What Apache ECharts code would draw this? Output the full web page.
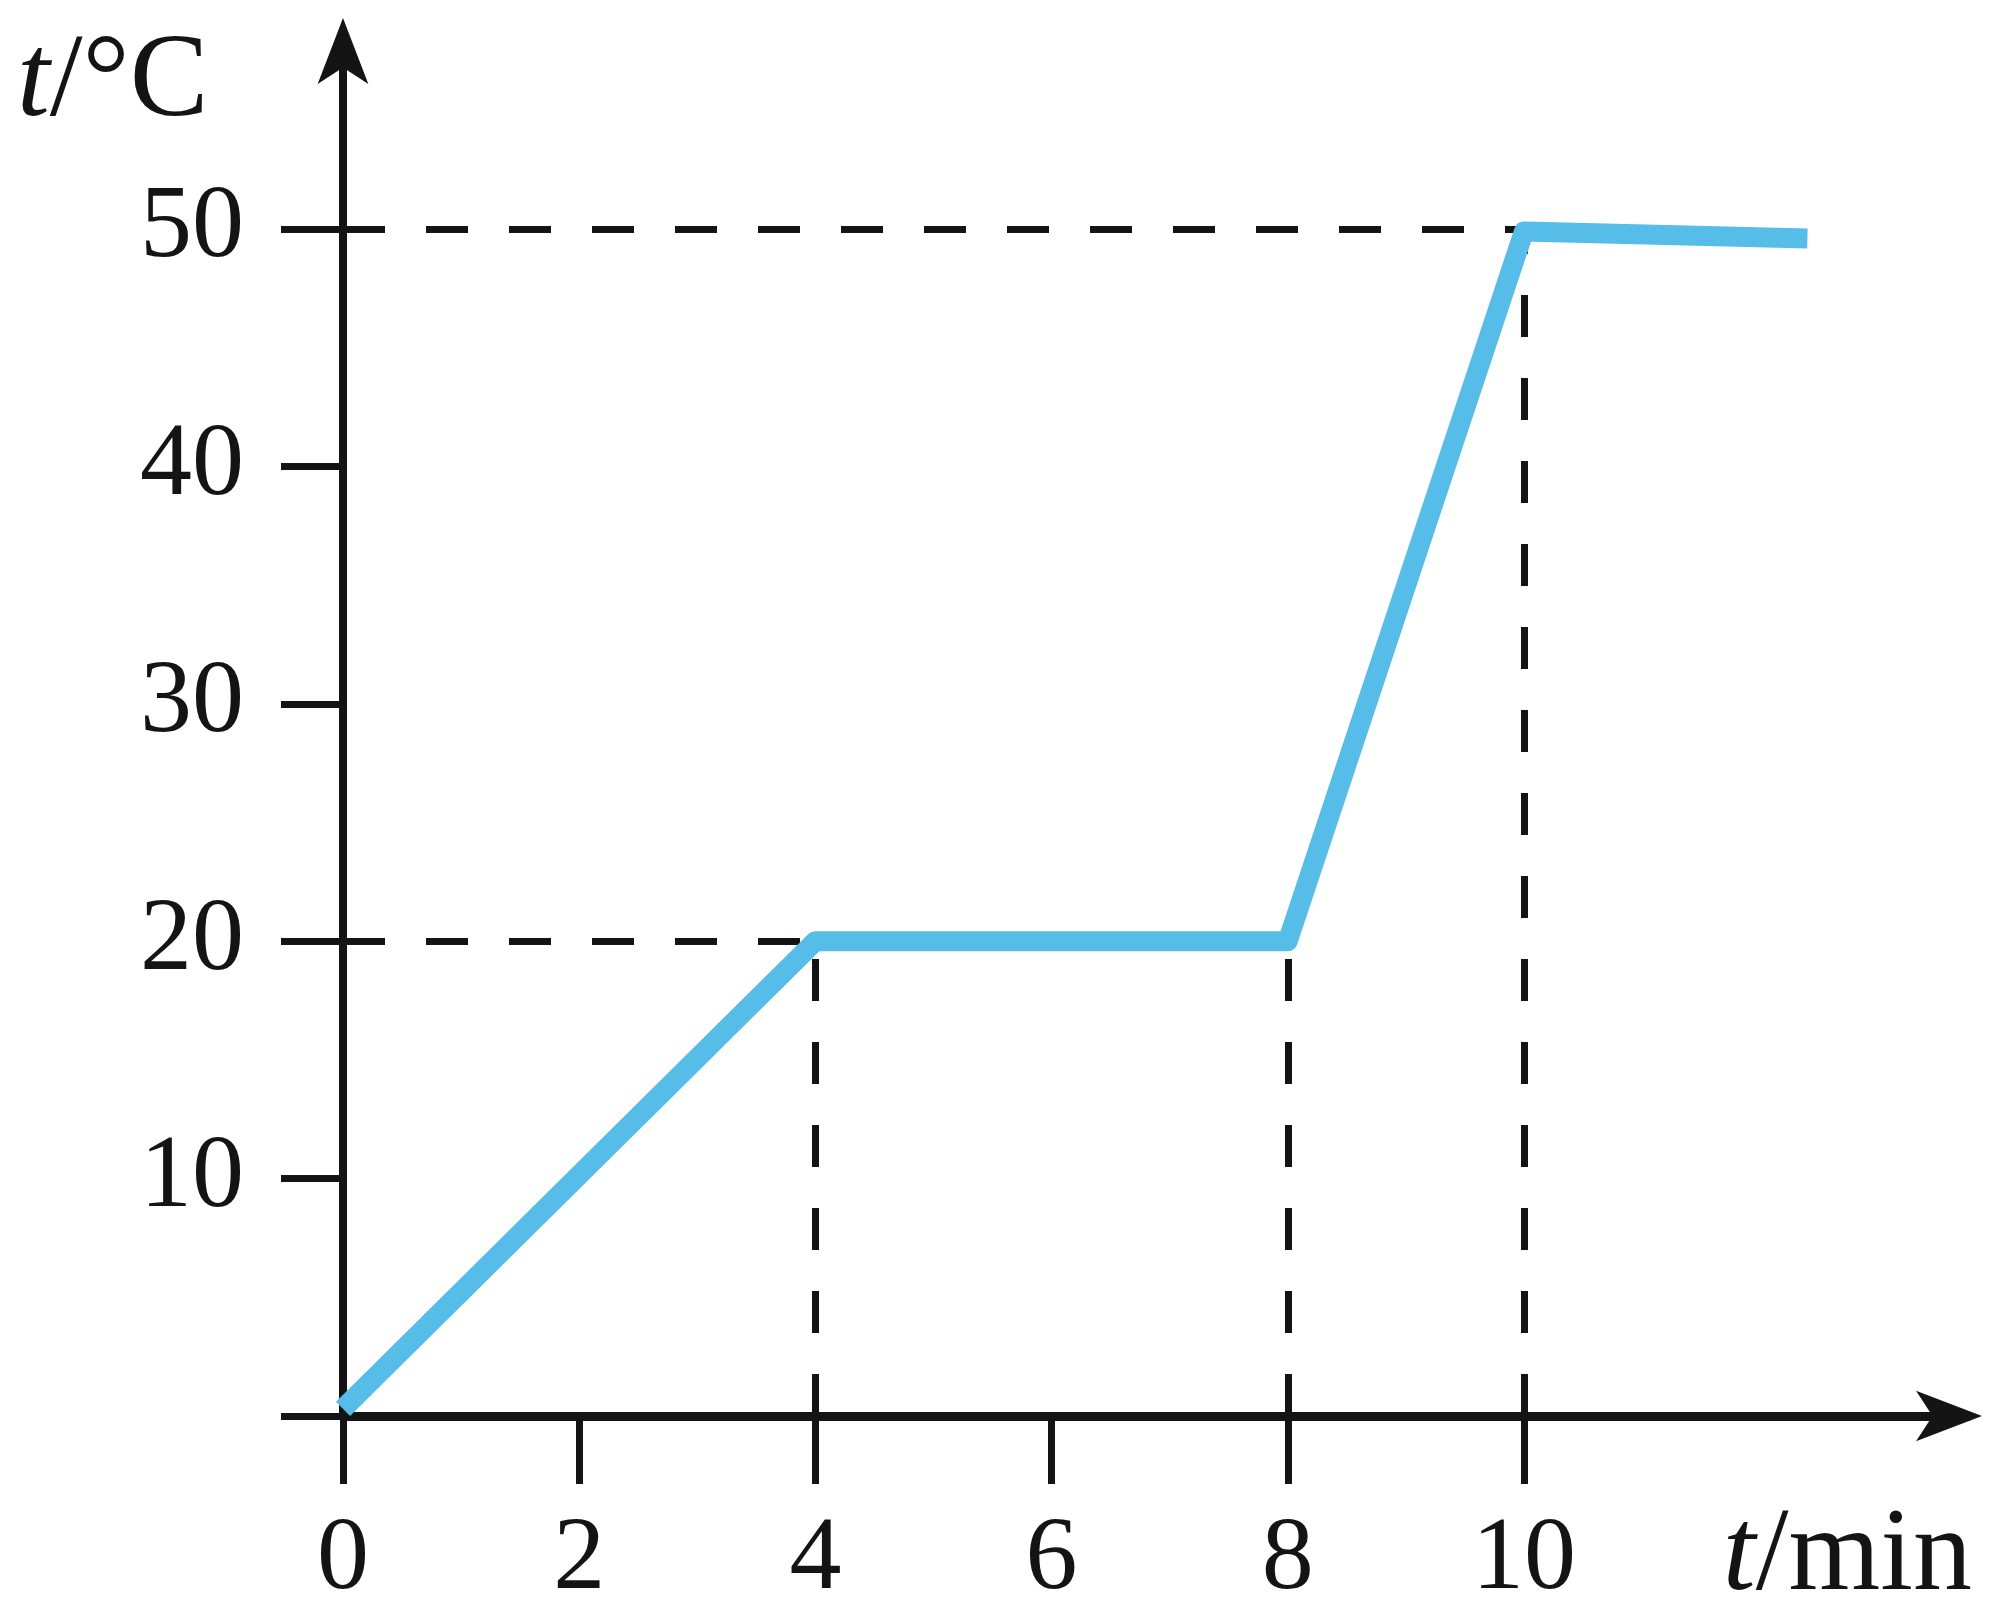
<!DOCTYPE html>
<html>
<head>
<meta charset="utf-8">
<script src="https://cdn.jsdelivr.net/npm/echarts@6/dist/echarts.min.js"></script>
<style>
html,body{margin:0;padding:0;background:#fff;}
#main{width:2004px;height:1620px;}
</style>
</head>
<body>
<div id="main"></div>
<script>
// ---- data ----
const times = [0, 4, 8, 10, 12.4];          // t / min
const temps = [0.3, 20, 20, 49.9, 49.6];     // t / °C
const xTicks = [0, 2, 4, 6, 8, 10];
const xLabels = [0, 2, 4, 6, 8, 10];
const yTicks = [0, 10, 20, 30, 40, 50];
const yLabels = [10, 20, 30, 40, 50];
const guideTimes = [4, 8, 10];               // vertical dashed guides
const guideTemps = [20, 20, 50];
const hGuideTemps = [20, 50];                // horizontal dashed guides
const hGuideEnds = [4, 10];
const xMax = 13.76;
const yMax = 58.3;

const ink = '#141414';
const blue = '#56bce8';
const serif = '"Liberation Serif", "Times New Roman", serif';

const guideLines = [];
hGuideTemps.forEach((v, i) => {
  guideLines.push([{coord: [0, v]}, {coord: [hGuideEnds[i], v]}]);
});
guideTimes.forEach((t, i) => {
  guideLines.push([{coord: [t, 0]}, {coord: [t, guideTemps[i]]}]);
});

const chart = echarts.init(document.getElementById('main'), null, {renderer: 'canvas'});
chart.setOption({
  backgroundColor: '#fff',
  animation: false,
  grid: {left: 343, right: 36, top: 32, bottom: 204, containLabel: false, outerBoundsMode: 'none'},
  xAxis: {
    type: 'value', min: 0, max: xMax,
    splitLine: {show: false},
    axisLine: {show: true, onZero: false, symbol: ['none', 'arrow'], symbolSize: [38, 66],
      symbolOffset: [0, 14],
      lineStyle: {color: ink, width: 9}},
    axisTick: {show: true, customValues: xTicks, length: 68, lineStyle: {color: ink, width: 7}},
    axisLabel: {show: true, customValues: xLabels, margin: 93, color: ink,
      fontFamily: serif, fontSize: 104}
  },
  yAxis: {
    type: 'value', min: 0, max: yMax,
    splitLine: {show: false},
    axisLine: {show: true, onZero: false, symbol: ['none', 'arrow'], symbolSize: [38, 66],
      symbolOffset: [0, 14],
      lineStyle: {color: ink, width: 8}},
    axisTick: {show: true, customValues: yTicks, length: 62, lineStyle: {color: ink, width: 7}},
    axisLabel: {show: true, customValues: yLabels, margin: 99, color: ink,
      fontFamily: serif, fontSize: 104}
  },
  graphic: [
    {type: 'text', x: 17, y: 84, z: 10,
      style: {text: '{i|t}{n|/°C}', textAlign: 'left', textVerticalAlign: 'middle',
        rich: {
          i: {fontStyle: 'italic', fontFamily: serif, fontSize: 118, fill: ink},
          n: {fontFamily: serif, fontSize: 118, fill: ink}
        }}},
    {type: 'text', x: 1972, y: 1558, z: 10,
      style: {text: '{i|t}{n|/min}', textAlign: 'right', textVerticalAlign: 'middle',
        rich: {
          i: {fontStyle: 'italic', fontFamily: serif, fontSize: 118, fill: ink},
          n: {fontFamily: serif, fontSize: 118, fill: ink}
        }}}
  ],
  series: [
    {
      type: 'line', z: 1, data: [], silent: true,
      markLine: {
        silent: true, symbol: ['none', 'none'], z: 1,
        label: {show: false},
        lineStyle: {color: ink, width: 7, type: [42, 41]},
        emphasis: {disabled: true},
        data: guideLines
      }
    },
    {
      type: 'line', z: 3, silent: true,
      data: times.map((t, i) => [t, temps[i]]),
      showSymbol: false, symbol: 'none',
      lineStyle: {color: blue, width: 20, cap: 'butt', join: 'round'}
    }
  ]
});
</script>
</body>
</html>
